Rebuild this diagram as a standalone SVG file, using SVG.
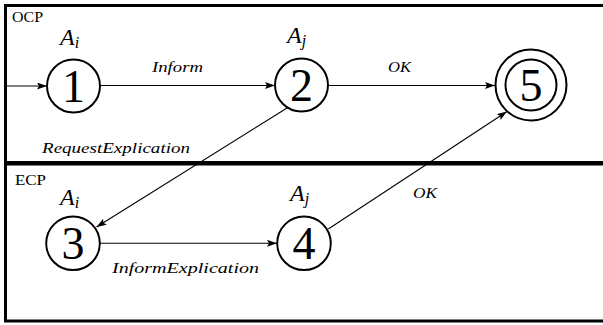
<svg xmlns="http://www.w3.org/2000/svg" width="603" height="325" viewBox="0 0 603 325">
  <defs>
    <marker id="arr" markerWidth="11" markerHeight="8" refX="10" refY="3.5" orient="auto" markerUnits="userSpaceOnUse">
      <path d="M0,0 L10,3.5 L0,7 L2,3.5 z" fill="#000"/>
    </marker>
  </defs>
  <style>
    .frame { fill: none; stroke: #000; stroke-width: 3; }
    .node { fill: #fff; stroke: #000; stroke-width: 2; }
    .edge { fill: none; stroke: #000; stroke-width: 1.1; }
  </style>
  <rect width="603" height="325" fill="#fff"/>

  <g id="ocp">
    <rect class="frame" x="5.5" y="5.5" width="610" height="157"/>
    <text font-family="'Liberation Serif', serif" font-size="14" x="12" y="22" textLength="31" lengthAdjust="spacingAndGlyphs">OCP</text>
  </g>
  <g id="ecp">
    <rect class="frame" x="5.5" y="164" width="610" height="157"/>
    <text font-family="'Liberation Serif', serif" font-size="14" x="15" y="185" textLength="31" lengthAdjust="spacingAndGlyphs">ECP</text>
  </g>

  <g id="connectors">
    <line class="edge" x1="5" y1="86" x2="47" y2="86" marker-end="url(#arr)"/>
    <line class="edge" x1="100" y1="85.5" x2="275" y2="85.5" marker-end="url(#arr)"/>
    <line class="edge" x1="328" y1="85.5" x2="495" y2="85.5" marker-end="url(#arr)"/>
    <line class="edge" x1="287" y1="108" x2="96.5" y2="227" marker-end="url(#arr)"/>
    <line class="edge" x1="100" y1="243.3" x2="277" y2="243.3" marker-end="url(#arr)"/>
    <line class="edge" x1="328.3" y1="229" x2="507" y2="111.5" marker-end="url(#arr)"/>
    <text font-family="'Liberation Serif', serif" font-style="italic" font-size="15" x="152" y="72" textLength="51" lengthAdjust="spacingAndGlyphs">Inform</text>
    <text font-family="'Liberation Serif', serif" font-style="italic" font-size="15" x="388" y="72" textLength="23" lengthAdjust="spacingAndGlyphs">OK</text>
    <text font-family="'Liberation Serif', serif" font-style="italic" font-size="15" x="42" y="153" textLength="148" lengthAdjust="spacingAndGlyphs">RequestExplication</text>
    <text font-family="'Liberation Serif', serif" font-style="italic" font-size="15" x="112" y="273" textLength="147" lengthAdjust="spacingAndGlyphs">InformExplication</text>
    <text font-family="'Liberation Serif', serif" font-style="italic" font-size="15" x="413" y="198" textLength="24" lengthAdjust="spacingAndGlyphs">OK</text>
  </g>

  <g id="node1">
    <circle class="node" cx="73.5" cy="86" r="26.5"/>
    <text font-family="'Liberation Serif', serif" font-size="46" text-anchor="middle" x="73.5" y="101.5">1</text>
    <text font-family="'Liberation Serif', serif" font-style="italic" font-size="24" x="60" y="45">A<tspan font-size="16" dy="3">i</tspan></text>
  </g>
  <g id="node2">
    <circle class="node" cx="301.5" cy="85" r="26.5"/>
    <text font-family="'Liberation Serif', serif" font-size="46" text-anchor="middle" x="301.5" y="100.5">2</text>
    <text font-family="'Liberation Serif', serif" font-style="italic" font-size="24" x="287" y="43">A<tspan font-size="16" dy="3">j</tspan></text>
  </g>
  <g id="node5">
    <circle class="node" cx="531" cy="85" r="35.5"/>
    <circle class="node" cx="531" cy="85" r="25.5" fill="none"/>
    <text font-family="'Liberation Serif', serif" font-size="46" text-anchor="middle" x="531" y="100.5">5</text>
  </g>
  <g id="node3">
    <circle class="node" cx="73" cy="243.3" r="26.8"/>
    <text font-family="'Liberation Serif', serif" font-size="46" text-anchor="middle" x="73" y="258.5">3</text>
    <text font-family="'Liberation Serif', serif" font-style="italic" font-size="24" x="60" y="205">A<tspan font-size="16" dy="3">i</tspan></text>
  </g>
  <g id="node4">
    <circle class="node" cx="304" cy="243.3" r="26.8"/>
    <text font-family="'Liberation Serif', serif" font-size="46" text-anchor="middle" x="304" y="258.5">4</text>
    <text font-family="'Liberation Serif', serif" font-style="italic" font-size="24" x="290" y="201">A<tspan font-size="16" dy="3">j</tspan></text>
  </g>
</svg>
